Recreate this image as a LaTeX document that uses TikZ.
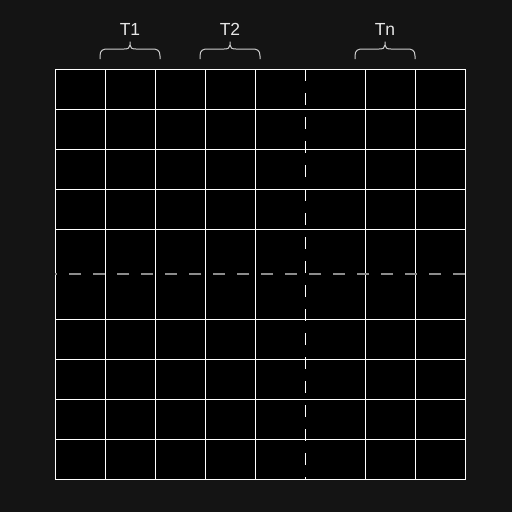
\documentclass[tikz,border=0pt]{standalone}
\usepackage{fontspec}
\setmainfont{Liberation Sans}
\definecolor{bg}{HTML}{141414}
\definecolor{dashgray}{HTML}{8C8C8C}
\definecolor{lbl}{HTML}{E6E6E6}
\definecolor{brc}{HTML}{D0D0D0}
\begin{document}
\begin{tikzpicture}[x=1pt,y=-1pt,
  gridline/.style={draw=white,line width=1pt},
  vdash/.style={draw=white,line width=1pt,dash pattern=on 12pt off 12pt},
  hdash/.style={draw=dashgray,line width=1.6pt,dash pattern=on 12.5pt off 11.5pt},
  bracepath/.style={draw=brc,line width=1pt,line join=round},
  tlabel/.style={text=lbl,font=\fontsize{17.5}{20}\selectfont,inner sep=0pt,anchor=base}]
\fill[bg] (0,0) rectangle (512,512);
\useasboundingbox (0,0) rectangle (512,512);
% grid
\fill[black] (55,69) rectangle (465,479);
\foreach \x in {105,155,205,255,365,415}
  \draw[gridline] (\x,69) -- (\x,479);
\foreach \y in {109,149,189,229,319,359,399,439}
  \draw[gridline] (55,\y) -- (465,\y);
\draw[gridline] (55,69) rectangle (465,479);
% dashed separators
\coordinate (vtop) at (305.5,69);
\coordinate (vbot) at (305.5,479);
\draw[vdash] (vtop) -- (vbot);
\coordinate (hright) at (465,273.7);
\coordinate (hleft) at (55,273.7);
\draw[hdash] (hright) -- (hleft);
% labels
\node[tlabel] (t1) at (130,35) {T1};
\node[tlabel] (t2) at (230,35) {T2};
\node[tlabel] (tn) at (385,35) {Tn};
% braces
\foreach \c in {130,230,385}{
  \draw[bracepath] (\c-30,59) -- (\c-30,56) .. controls (\c-30,50) and (\c-27,49) .. (\c-22,49)
    -- (\c-6,49) .. controls (\c-2,49) and (\c,48) .. (\c,45) -- (\c,41.5);
  \draw[bracepath] (\c,45) .. controls (\c,48) and (\c+2,49) .. (\c+6,49)
    -- (\c+22,49) .. controls (\c+27,49) and (\c+30,50) .. (\c+30,56) -- (\c+30,59);
}
\end{tikzpicture}
\end{document}
